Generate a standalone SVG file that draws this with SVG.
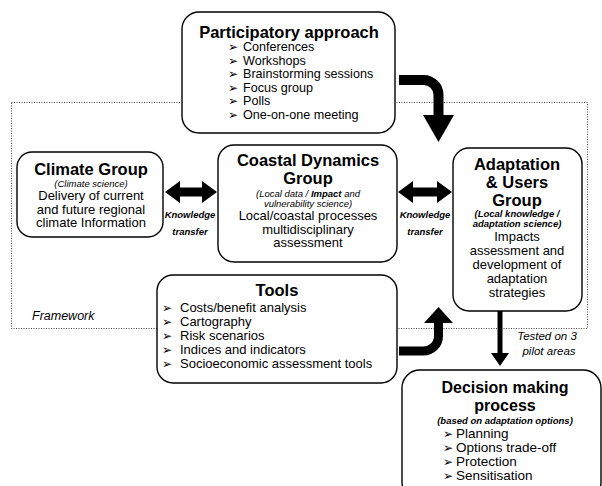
<svg xmlns="http://www.w3.org/2000/svg" width="602" height="486" viewBox="0 0 602 486">
<style>
text{font-family:"Liberation Sans",Arial,"DejaVu Sans",sans-serif;fill:#000}
.box{fill:#fff;stroke:#000;stroke-width:1.4}
.t{font-size:16.5px;font-weight:bold;text-anchor:middle}
.b{font-size:13px;text-anchor:middle}
.l{font-size:12.6px}
.i{font-size:9.5px;font-style:italic;text-anchor:middle}
.bi{font-size:9.5px;font-style:italic;font-weight:bold;text-anchor:middle}
.k{font-size:9.5px;font-style:italic;font-weight:bold;text-anchor:middle}
.bul{font-family:"DejaVu Sans",sans-serif;font-size:12px}
.lab{font-size:11.5px;font-style:italic;text-anchor:middle}
.frame{fill:none;stroke:#444;stroke-width:1;stroke-dasharray:1 1.5}
.fat{fill:none;stroke:#000}
</style>
<rect class="frame" x="11.5" y="102.5" width="576" height="226"/>
<text x="32" y="320" style="font-size:12.5px;font-style:italic">Framework</text>

<g id="participatory">
<rect class="box" x="182" y="12" width="213" height="121" rx="17"/>
<text class="t" x="289" y="38">Participatory approach</text>
<text class="bul" x="228" y="51">➢</text><text class="l" x="243" y="51">Conferences</text>
<text class="bul" x="228" y="64.5">➢</text><text class="l" x="243" y="64.5">Workshops</text>
<text class="bul" x="228" y="78">➢</text><text class="l" x="243" y="78">Brainstorming sessions</text>
<text class="bul" x="228" y="91.5">➢</text><text class="l" x="243" y="91.5">Focus group</text>
<text class="bul" x="228" y="105">➢</text><text class="l" x="243" y="105">Polls</text>
<text class="bul" x="228" y="118.5">➢</text><text class="l" x="243" y="118.5">One-on-one meeting</text>
</g>

<g id="climate">
<rect class="box" x="17" y="152" width="146" height="85" rx="15"/>
<text class="t" x="91" y="175">Climate Group</text>
<text class="i" x="91" y="187">(Climate science)</text>
<text class="b" x="91" y="200">Delivery of current</text>
<text class="b" x="91" y="213.5">and future regional</text>
<text class="b" x="91" y="227">climate Information</text>
</g>

<g id="coastal">
<rect class="box" x="218" y="145" width="179" height="117" rx="16"/>
<text class="t" x="308" y="166">Coastal Dynamics</text>
<text class="t" x="308" y="184">Group</text>
<text class="i" x="308" y="197">(Local data / <tspan font-weight="bold">Impact</tspan> and</text>
<text class="i" x="308" y="207">vulnerability science)</text>
<text class="b" x="308" y="220">Local/coastal processes</text>
<text class="b" x="308" y="233.5">multidisciplinary</text>
<text class="b" x="308" y="247">assessment</text>
</g>

<g id="adaptation">
<rect class="box" x="453" y="148" width="129" height="163" rx="16"/>
<text class="t" x="517" y="170">Adaptation</text>
<text class="t" x="517" y="188">&amp; Users</text>
<text class="t" x="517" y="206">Group</text>
<text class="bi" x="517" y="217">(Local knowledge /</text>
<text class="bi" x="517" y="227">adaptation science)</text>
<text class="b" x="517" y="241">Impacts</text>
<text class="b" x="517" y="255">assessment and</text>
<text class="b" x="517" y="269">development of</text>
<text class="b" x="517" y="283">adaptation</text>
<text class="b" x="517" y="297">strategies</text>
</g>

<g id="tools">
<rect class="box" x="157" y="275" width="240" height="108" rx="16"/>
<text class="t" x="277" y="296">Tools</text>
<text class="bul" x="162" y="312">➢</text><text class="l" x="180" y="312" style="font-size:13px">Costs/benefit analysis</text>
<text class="bul" x="162" y="326">➢</text><text class="l" x="180" y="326" style="font-size:13px">Cartography</text>
<text class="bul" x="162" y="340">➢</text><text class="l" x="180" y="340" style="font-size:13px">Risk scenarios</text>
<text class="bul" x="162" y="354">➢</text><text class="l" x="180" y="354" style="font-size:13px">Indices and indicators</text>
<text class="bul" x="162" y="368">➢</text><text class="l" x="180" y="368" style="font-size:13px">Socioeconomic assessment tools</text>
</g>

<g id="decision">
<rect class="box" x="402" y="370" width="199" height="130" rx="18"/>
<text class="t" x="505" y="393" style="font-size:16px">Decision making</text>
<text class="t" x="505" y="411" style="font-size:16px">process</text>
<text class="bi" x="505" y="424">(based on adaptation options)</text>
<text class="bul" x="443" y="438">➢</text><text class="l" x="456" y="438" style="font-size:13.5px">Planning</text>
<text class="bul" x="443" y="452">➢</text><text class="l" x="456" y="452" style="font-size:13.5px">Options trade-off</text>
<text class="bul" x="443" y="466">➢</text><text class="l" x="456" y="466" style="font-size:13.5px">Protection</text>
<text class="bul" x="443" y="480">➢</text><text class="l" x="456" y="480" style="font-size:13.5px">Sensitisation</text>
</g>

<g id="connectors">
<polygon points="165,192 180,181 180,187.5 202,187.5 202,181 217,192 202,203 202,196.5 180,196.5 180,203"/>
<polygon points="398,192 413,181 413,187.5 437,187.5 437,181 452,192 437,203 437,196.5 413,196.5 413,203"/>
<text class="k" x="190" y="218">Knowledge</text>
<text class="k" x="190" y="235">transfer</text>
<text class="k" x="425" y="218">Knowledge</text>
<text class="k" x="425" y="235">transfer</text>
<path class="fat" stroke-width="10" d="M399,80 H423 A15,15 0 0 1 438.5,95 V117"/>
<polygon points="423,115 454,115 438.5,142"/>
<path class="fat" stroke-width="9" d="M399,351 H423 A15,15 0 0 0 438.5,336 V321"/>
<polygon points="424,323 453,323 438.5,307"/>
<line x1="500" y1="311" x2="500" y2="355" stroke="#000" stroke-width="5"/>
<polygon points="491,353 509,353 500,366"/>
<text class="lab" x="547" y="340">Tested on 3</text>
<text class="lab" x="549" y="355">pilot areas</text>
</g>
</svg>
